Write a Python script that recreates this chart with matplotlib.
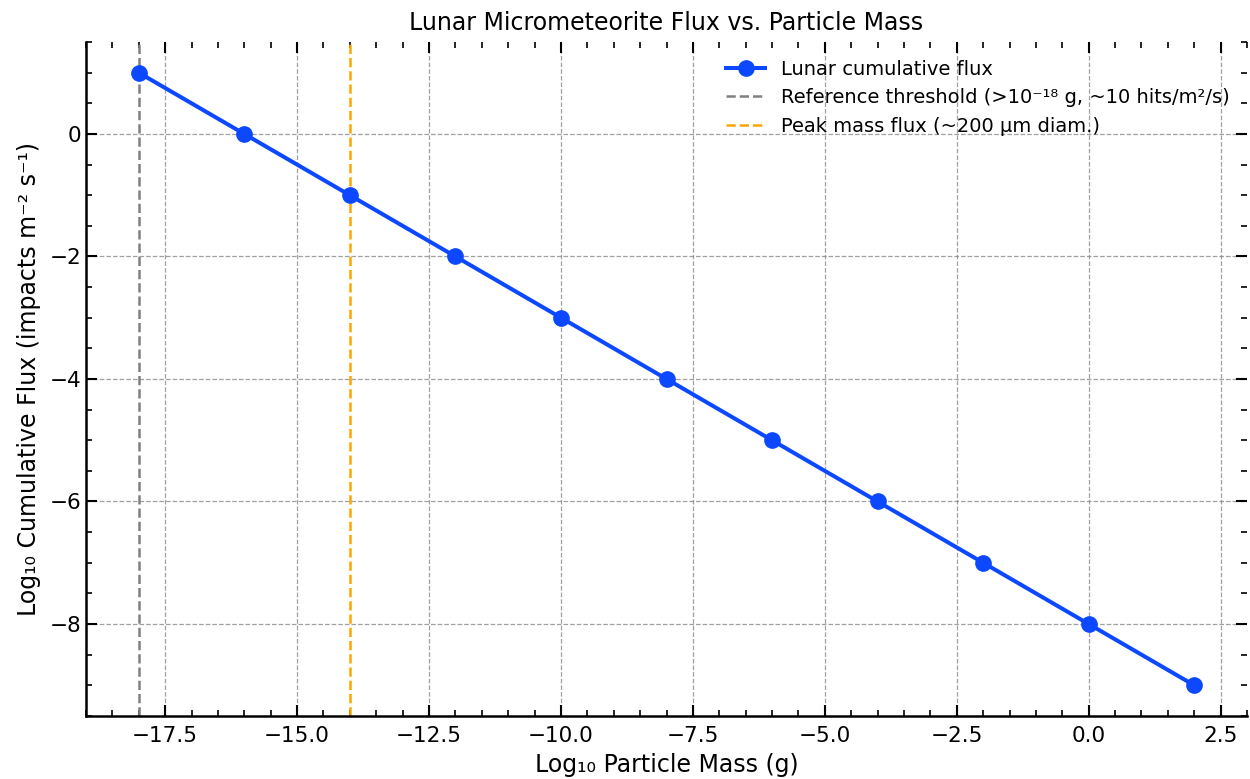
import numpy as np
import matplotlib
matplotlib.use('Agg')
from matplotlib import pyplot as plt
from matplotlib.ticker import MultipleLocator

# data
log_mass = [-18, -16, -14, -12, -10, -8, -6, -4, -2, 0, 2]
log_flux = [1, 0, -1, -2, -3, -4, -5, -6, -7, -8, -9]
threshold_mass = -18
peak_mass = -14

plt.rcParams['font.family'] = ['DejaVu Sans']

fig = plt.figure(figsize=(12.5, 7.79), dpi=100)
ax = fig.add_axes([0.0688, 0.081, 0.9288, 0.865])

ax.plot(log_mass, log_flux, '-o', color='#0C48FF', lw=2.9, ms=11,
        label='Lunar cumulative flux', zorder=3)
ax.axvline(threshold_mass, color='gray', ls='--', lw=1.8,
           label='Reference threshold (>10⁻¹⁸ g, ~10 hits/m²/s)')
ax.axvline(peak_mass, color='orange', ls='--', lw=1.8,
           label='Peak mass flux (~200 µm diam.)')

ax.set_xlim(-19, 3)
ax.set_ylim(-9.5, 1.5)
ax.xaxis.set_major_locator(MultipleLocator(2.5))
ax.xaxis.set_minor_locator(MultipleLocator(0.5))
ax.yaxis.set_major_locator(MultipleLocator(2))
ax.yaxis.set_minor_locator(MultipleLocator(0.5))

ax.tick_params(which='both', direction='in', top=True, right=True, labelsize=15.5)
ax.tick_params(which='major', length=8, width=1.5)
ax.tick_params(which='minor', length=4, width=1.2)
ax.tick_params(axis='x', which='major', pad=7)
ax.spines['top'].set_visible(False)
ax.spines['right'].set_visible(False)
ax.spines['left'].set_linewidth(1.8)
ax.spines['bottom'].set_linewidth(1.8)

ax.grid(True, ls='--', color='gray', alpha=0.75, lw=0.9)

ax.set_title('Lunar Micrometeorite Flux vs. Particle Mass', fontsize=17, pad=9)
ax.set_xlabel('Log₁₀ Particle Mass (g)', fontsize=17, labelpad=5)
ax.set_ylabel('Log₁₀ Cumulative Flux (impacts m⁻² s⁻¹)', fontsize=17, labelpad=6)
ax.legend(loc='upper right', frameon=False, fontsize=14, bbox_to_anchor=(1.0, 1.0))

plt.savefig('out.png', dpi=100)
